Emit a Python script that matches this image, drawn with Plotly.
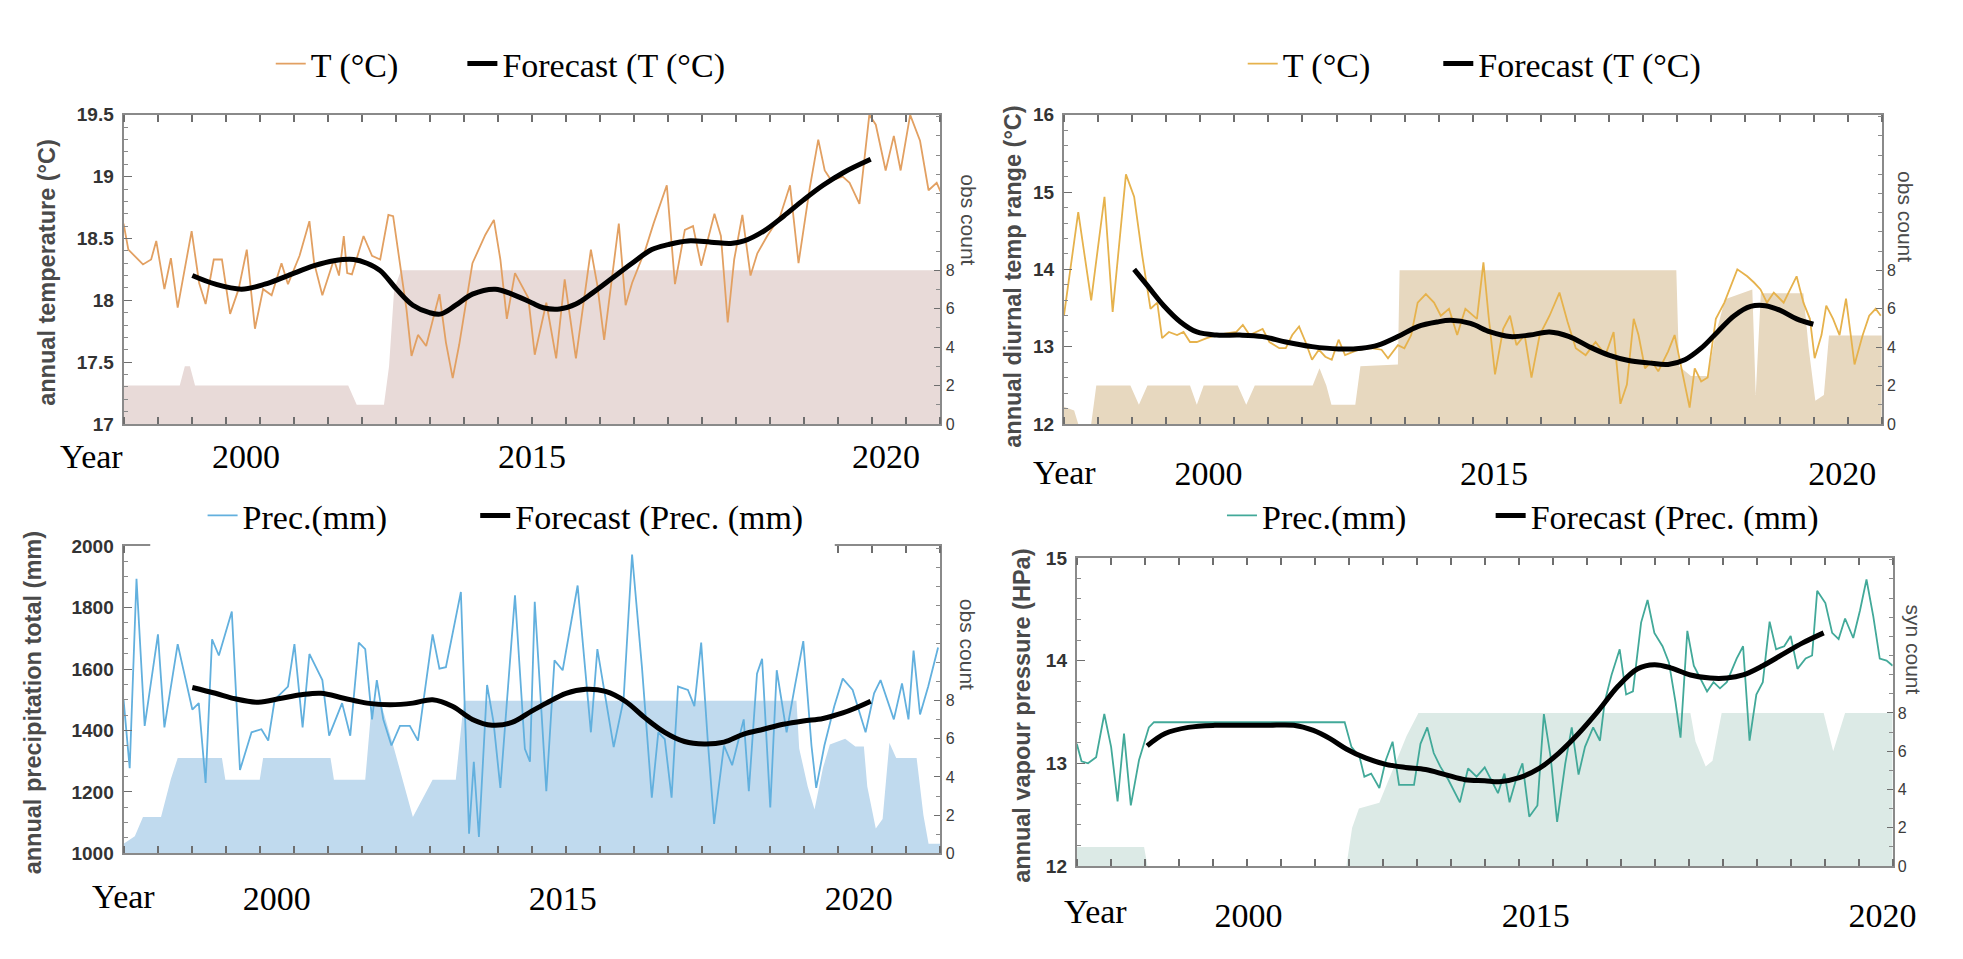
import plotly.graph_objects as go

W, H = 1963, 959

SERIF = "Liberation Serif"
SANS = "Liberation Sans"

YEAR_TEXT = ["2000", "2015", "2020"]
X_MINOR = list(range(0, 25))
COUNT_TICKS = [0, 2, 4, 6, 8]
COUNT_MINOR = list(range(0, 17))

# ---- panel A: annual temperature ----
A_T_X = [0, 0.14, 0.57, 0.81, 0.96, 1.2, 1.39, 1.59, 2.0, 2.22, 2.41, 2.65, 2.89, 3.13, 3.38,
         3.62, 3.86, 4.1, 4.35, 4.64, 4.83, 5.17, 5.46, 5.6, 5.84, 6.18, 6.33, 6.47, 6.57, 6.71,
         7.05, 7.3, 7.54, 7.78, 7.92, 8.12, 8.31, 8.46, 8.65, 8.89, 9.09, 9.28, 9.47, 9.67, 9.86,
         10.25, 10.63, 10.88, 11.07, 11.26, 11.5, 11.89, 12.08, 12.42, 12.71, 12.96, 13.29, 13.73,
         13.92, 14.12, 14.55, 14.75, 14.94, 15.33, 15.57, 15.96, 16.2, 16.49, 16.73, 16.97, 17.36,
         17.55, 17.75, 17.94, 18.18, 18.42, 18.62, 18.91, 19.29, 19.58, 19.83, 20.16, 20.41, 20.6,
         20.79, 21.13, 21.33, 21.62, 21.91, 22.1, 22.39, 22.63, 22.83, 23.11, 23.4, 23.65, 23.89, 24.0]
A_T_Y = [18.62, 18.41, 18.29, 18.33, 18.48, 18.09, 18.34, 17.94, 18.56, 18.14, 17.97, 18.33, 18.33,
         17.89, 18.09, 18.41, 17.77, 18.09, 18.04, 18.30, 18.13, 18.36, 18.64, 18.30, 18.04, 18.33,
         18.20, 18.52, 18.22, 18.21, 18.52, 18.36, 18.33, 18.69, 18.68, 18.30, 17.93, 17.55, 17.72,
         17.63, 17.85, 18.05, 17.66, 17.37, 17.64, 18.30, 18.53, 18.65, 18.33, 17.85, 18.22, 18.02,
         17.56, 17.98, 17.53, 18.17, 17.53, 18.41, 18.12, 17.68, 18.62, 17.96, 18.14, 18.41, 18.62,
         18.93, 18.13, 18.57, 18.60, 18.28, 18.70, 18.52, 17.82, 18.33, 18.69, 18.20, 18.38, 18.52,
         18.68, 18.93, 18.30, 18.91, 19.30, 19.05, 18.97, 19.0, 18.95, 18.78, 19.5, 19.42, 19.05,
         19.33, 19.05, 19.5, 19.29, 18.89, 18.95, 18.88]
A_FC_X = [2.02, 2.7, 3.47, 4.15, 4.83, 5.6, 6.18, 6.76, 7.15, 7.54, 8.02, 8.5, 8.99, 9.33, 9.76,
          10.25, 10.92, 11.41, 11.99, 12.33, 12.81, 13.29, 13.78, 14.36, 14.94, 15.52, 16.0, 16.58,
          17.26, 17.84, 18.23, 18.81, 19.39, 19.97, 20.55, 21.13, 21.95]
A_FC_Y = [18.20, 18.13, 18.09, 18.13, 18.20, 18.28, 18.32, 18.33, 18.30, 18.24, 18.09, 17.96, 17.90,
          17.89, 17.96, 18.05, 18.09, 18.05, 17.98, 17.94, 17.93, 17.97, 18.06, 18.18, 18.30, 18.41,
          18.45, 18.48, 18.47, 18.46, 18.48, 18.56, 18.68, 18.81, 18.93, 19.03, 19.14]
A_OBS_X = [0, 1.65, 1.8, 1.95, 2.1, 6.6, 6.85, 7.65, 7.8, 7.95, 8.15, 24]
A_OBS_Y = [2, 2, 3, 3, 2, 2, 1, 1, 3, 7, 8, 8]
A_Y_TICKS = [17, 17.5, 18, 18.5, 19, 19.5]
A_Y_TEXT = ["17", "17.5", "18", "18.5", "19", "19.5"]
A_YEAR_POS = [3.6, 12.0, 22.4]

# ---- panel B: annual diurnal temperature range ----
B_T_X = [0, 0.42, 0.8, 1.19, 1.43, 1.82, 2.06, 2.3, 2.54, 2.74, 2.88, 3.08, 3.32, 3.51, 3.7, 3.9,
         4.19, 4.48, 4.77, 5.06, 5.25, 5.45, 5.64, 5.83, 6.03, 6.32, 6.51, 6.7, 6.9, 7.09, 7.28,
         7.48, 7.67, 7.86, 8.06, 8.25, 8.64, 9.02, 9.32, 9.51, 9.8, 9.99, 10.19, 10.38, 10.62,
         10.86, 11.06, 11.3, 11.54, 11.78, 12.12, 12.31, 12.46, 12.65, 12.89, 13.09, 13.28, 13.52,
         13.72, 13.96, 14.25, 14.54, 14.78, 15.02, 15.31, 15.6, 15.89, 16.13, 16.33, 16.52, 16.72,
         16.86, 17.05, 17.25, 17.44, 17.73, 17.92, 18.12, 18.36, 18.51, 18.7, 18.89, 19.13, 19.38,
         19.57, 19.76, 20.05, 20.25, 20.44, 20.63, 20.83, 21.12, 21.31, 21.5, 21.7, 21.89, 22.03,
         22.23, 22.37, 22.57, 22.76, 22.95, 23.2, 23.44, 23.63, 23.82, 23.97]
B_T_Y = [13.40, 14.74, 13.60, 14.94, 13.45, 15.23, 14.94, 14.17, 13.49, 13.57, 13.11, 13.19, 13.15,
         13.19, 13.06, 13.06, 13.11, 13.15, 13.17, 13.19, 13.28, 13.15, 13.19, 13.23, 13.06, 12.98,
         12.98, 13.15, 13.26, 13.06, 12.83, 12.96, 12.87, 12.83, 13.09, 12.89, 12.96, 12.98, 12.96,
         12.85, 13.02, 12.98, 13.15, 13.57, 13.68, 13.57, 13.40, 13.49, 13.15, 13.49, 13.36, 14.09,
         13.40, 12.64, 13.23, 13.40, 13.02, 13.15, 12.60, 13.15, 13.40, 13.70, 13.32, 12.98, 12.89,
         13.06, 12.89, 13.19, 12.26, 12.51, 13.36, 13.15, 12.72, 12.81, 12.68, 12.94, 13.15, 12.72,
         12.21, 12.72, 12.55, 12.60, 13.36, 13.57, 13.79, 14.0, 13.91, 13.83, 13.74, 13.57, 13.70,
         13.57, 13.74, 13.91, 13.57, 13.36, 12.85, 13.15, 13.53, 13.36, 13.15, 13.62, 12.77, 13.15,
         13.40, 13.49, 13.40]
B_FC_X = [2.06, 2.45, 2.93, 3.42, 3.9, 4.48, 5.16, 5.83, 6.51, 7.28, 8.06, 8.73, 9.22, 9.8, 10.38,
          10.96, 11.35, 11.93, 12.51, 13.09, 13.67, 14.25, 14.83, 15.41, 15.99, 16.57, 17.15, 17.73,
          18.22, 18.7, 19.18, 19.67, 20.15, 20.58, 21.02, 21.5, 21.99]
B_FC_Y = [14.0, 13.79, 13.53, 13.32, 13.19, 13.15, 13.15, 13.13, 13.06, 13.0, 12.97, 12.98, 13.02,
          13.13, 13.26, 13.32, 13.34, 13.30, 13.19, 13.13, 13.15, 13.19, 13.13, 13.0, 12.89, 12.82,
          12.79, 12.77, 12.83, 12.98, 13.19, 13.40, 13.52, 13.53, 13.47, 13.36, 13.29]
B_OBS_X = [0, 0.3, 0.42, 0.8, 0.95, 1.95, 2.2, 2.45, 3.7, 3.9, 4.1, 5.1, 5.35, 5.6, 7.3, 7.5, 7.7,
           7.85, 8.55, 8.7, 9.8, 9.85, 17.97, 18.05, 18.4, 18.9, 19.1, 19.4, 20.2, 20.3, 20.45,
           21.7, 21.85, 22.05, 22.3, 22.45, 24]
B_OBS_Y = [0.9, 0.7, 0, 0, 2, 2, 1, 2, 2, 1, 2, 2, 1, 2, 2, 2.9, 2, 1, 1, 3, 3.1, 8, 8, 3, 2.5,
           2.5, 4.5, 6.5, 7, 1.5, 6.8, 6.8, 4, 1.2, 1.5, 4.6, 4.6]
B_Y_TICKS = [12, 13, 14, 15, 16]
B_Y_TEXT = ["12", "13", "14", "15", "16"]
B_YEAR_POS = [4.24, 12.62, 22.84]

# ---- panel C: annual precipitation total ----
C_P_X = [0, 0.18, 0.38, 0.62, 1.01, 1.2, 1.59, 2.02, 2.21, 2.41, 2.6, 2.8, 3.18, 3.42, 3.76, 4.05,
         4.25, 4.44, 4.83, 5.02, 5.26, 5.46, 5.84, 6.04, 6.42, 6.66, 6.91, 7.1, 7.3, 7.44, 7.63,
         7.87, 8.12, 8.41, 8.65, 9.08, 9.28, 9.47, 9.91, 10.05, 10.15, 10.29, 10.44, 10.68, 10.87,
         11.07, 11.5, 11.79, 11.94, 12.08, 12.42, 12.66, 12.9, 13.34, 13.73, 13.92, 14.16, 14.4,
         14.69, 14.94, 15.23, 15.52, 15.71, 15.9, 16.1, 16.29, 16.58, 16.77, 16.97, 17.16, 17.35,
         17.64, 17.88, 18.22, 18.37, 18.61, 18.76, 19.0, 19.19, 19.48, 19.72, 19.97, 20.21, 20.35,
         20.59, 20.88, 21.13, 21.42, 21.8, 22.05, 22.24, 22.48, 22.63, 22.87, 23.06, 23.21, 23.4,
         23.64, 23.93]
C_P_Y = [1500, 1277, 1894, 1415, 1713, 1410, 1681, 1468, 1489, 1229, 1697, 1644, 1787, 1271, 1394,
         1404, 1367, 1500, 1543, 1681, 1410, 1649, 1564, 1383, 1489, 1383, 1686, 1665, 1436, 1564,
         1436, 1351, 1415, 1415, 1367, 1713, 1601, 1606, 1851, 1394, 1064, 1298, 1053, 1548, 1426,
         1213, 1840, 1340, 1298, 1819, 1202, 1628, 1596, 1872, 1394, 1665, 1500, 1346, 1500, 1973,
         1606, 1181, 1394, 1372, 1181, 1543, 1532, 1479, 1686, 1372, 1096, 1351, 1287, 1436, 1202,
         1585, 1633, 1149, 1596, 1394, 1543, 1691, 1351, 1213, 1351, 1479, 1569, 1532, 1394, 1521,
         1564, 1489, 1436, 1553, 1436, 1660, 1452, 1543, 1670]
C_FC_X = [2.02, 2.7, 3.28, 3.96, 4.64, 5.22, 5.8, 6.47, 7.15, 7.83, 8.5, 9.08, 9.66, 10.25, 10.83,
          11.41, 11.99, 12.42, 13.0, 13.58, 14.16, 14.74, 15.32, 15.9, 16.48, 17.06, 17.64, 18.22,
          18.8, 19.38, 19.97, 20.55, 21.13, 21.51, 21.95]
C_FC_Y = [1540, 1521, 1503, 1492, 1505, 1516, 1521, 1505, 1489, 1484, 1489, 1500, 1479, 1436, 1417,
          1426, 1463, 1489, 1521, 1534, 1527, 1495, 1441, 1394, 1364, 1356, 1362, 1388, 1404, 1420,
          1431, 1439, 1457, 1473, 1495]
C_OBS_X = [0, 0.33, 0.57, 1.1, 1.39, 1.59, 2.89, 2.99, 4.0, 4.1, 6.08, 6.18, 7.1, 7.3, 7.54, 7.93,
           8.5, 8.8, 9.08, 9.76, 10.0, 19.77, 19.85, 20.1, 20.3, 20.55, 20.75, 21.2, 21.5, 21.75,
           21.85, 22.1, 22.3, 22.5, 22.7, 23.3, 23.5, 23.65, 24]
C_OBS_Y = [0.5, 0.9, 1.9, 1.9, 3.9, 5.0, 5.0, 3.85, 3.85, 5.0, 5.0, 3.85, 3.85, 8.0, 8.0, 5.6, 1.9,
           2.9, 3.85, 3.85, 8.0, 8.0, 5.5, 3.5, 2.3, 4.5, 5.7, 6.0, 5.6, 5.6, 3.5, 1.3, 1.8, 5.8,
           5.0, 5.0, 2.0, 0.5, 0.5]
C_Y_TICKS = [1000, 1200, 1400, 1600, 1800, 2000]
C_Y_TEXT = ["1000", "1200", "1400", "1600", "1800", "2000"]
C_YEAR_POS = [4.5, 12.9, 21.6]

# ---- panel D: annual vapour pressure ----
D_V_X = [0, 0.14, 0.33, 0.57, 0.81, 1.01, 1.2, 1.39, 1.59, 1.83, 2.12, 2.27, 7.88, 8.08, 8.32,
         8.46, 8.66, 8.9, 9.09, 9.29, 9.48, 9.92, 10.11, 10.31, 10.5, 10.69, 10.93, 11.13, 11.27,
         11.51, 11.76, 12.0, 12.39, 12.58, 12.73, 12.92, 13.11, 13.31, 13.55, 13.74, 13.94, 14.13,
         14.37, 14.56, 14.76, 14.95, 15.19, 15.39, 15.53, 15.73, 15.97, 16.16, 16.36, 16.6, 16.79,
         16.99, 17.23, 17.42, 17.61, 17.76, 17.96, 18.15, 18.54, 18.73, 18.92, 19.12, 19.41, 19.6,
         19.79, 19.99, 20.18, 20.38, 20.57, 20.81, 21.0, 21.2, 21.44, 21.63, 21.78, 22.02, 22.22,
         22.41, 22.6, 22.84, 23.04, 23.23, 23.43, 23.62, 23.82, 24.0]
D_V_Y = [13.19, 13.02, 13.0, 13.06, 13.48, 13.16, 12.63, 13.29, 12.59, 13.03, 13.35, 13.40, 13.40,
         13.16, 13.06, 12.87, 12.90, 12.76, 13.03, 13.21, 12.79, 12.79, 13.19, 13.35, 13.10, 12.97,
         12.84, 12.71, 12.62, 12.95, 12.87, 12.96, 12.71, 12.90, 12.62, 12.84, 13.0, 12.48, 12.59,
         13.48, 13.06, 12.43, 13.0, 13.35, 12.89, 13.16, 13.35, 13.22, 13.60, 13.86, 14.11, 13.67,
         13.70, 14.37, 14.59, 14.27, 14.14, 13.98, 13.60, 13.25, 14.29, 13.95, 13.70, 13.79, 13.73,
         13.79, 14.02, 14.14, 13.22, 13.67, 13.79, 14.38, 14.11, 14.14, 14.24, 13.92, 14.02, 14.05,
         14.68, 14.56, 14.27, 14.21, 14.41, 14.22, 14.49, 14.79, 14.43, 14.02, 14.0, 13.95]
D_FC_X = [2.07, 2.6, 3.28, 4.06, 4.83, 5.61, 6.38, 6.96, 7.45, 7.93, 8.51, 9.09, 9.67, 10.26, 10.84,
          11.42, 12.0, 12.43, 13.02, 13.6, 14.18, 14.76, 15.34, 15.92, 16.5, 16.99, 17.47, 18.05,
          18.63, 19.12, 19.6, 20.18, 20.76, 21.34, 21.97]
D_FC_Y = [13.17, 13.29, 13.35, 13.37, 13.37, 13.37, 13.37, 13.32, 13.24, 13.14, 13.05, 12.99, 12.96,
          12.94, 12.89, 12.84, 12.83, 12.82, 12.86, 12.95, 13.10, 13.29, 13.51, 13.75, 13.92, 13.96,
          13.93, 13.86, 13.83, 13.83, 13.86, 13.95, 14.06, 14.17, 14.27]
D_OBS_X = [0, 1.98, 2.08, 7.93, 8.1, 8.3, 8.9, 9.3, 9.7, 10.05, 18.05, 18.2, 18.5, 18.7, 18.97,
           21.97, 22.25, 22.6, 24]
D_OBS_Y = [1.0, 1.0, 0, 0, 2.0, 3.0, 3.3, 5.0, 6.8, 8, 8, 6.5, 5.2, 5.5, 8, 8, 6.0, 8, 8]
D_Y_TICKS = [12, 13, 14, 15]
D_Y_TEXT = ["12", "13", "14", "15"]
D_YEAR_POS = [5.05, 13.5, 23.7]


def px(x):
    return x / W


def py(y):
    return 1 - y / H


def legend_key(i):
    return "legend" if i == 1 else f"legend{i}"


def add_panel(fig, n, box, obs, line, forecast, yaxis_cfg, year_pos, standoff, colors, names):
    """one framed panel: count fill on the right axis, data + forecast on the left axis"""
    x0, y0, x1, y1 = box
    xa = "x" if n == 1 else f"x{n}"
    yb = "y" if n == 1 else f"y{2 * n - 1}"
    yl = f"y{2 * n}"
    frame = "#8a8a8a"

    fig.add_trace(go.Scatter(x=obs[0], y=obs[1], mode="lines", line=dict(width=0),
                             fill="tozeroy", fillcolor=colors[1], xaxis=xa, yaxis=yb,
                             showlegend=False, hoverinfo="skip"))
    fig.add_trace(go.Scatter(x=line[0], y=line[1], mode="lines", name=names[0],
                             line=dict(color=colors[0], width=1.8), xaxis=xa, yaxis=yl,
                             legend=legend_key(2 * n - 1)))
    fig.add_trace(go.Scatter(x=forecast[0], y=forecast[1], mode="lines", name=names[1],
                             line=dict(color="black", width=5, shape="spline"),
                             xaxis=xa, yaxis=yl, legend=legend_key(2 * n)))

    xkey = "xaxis" if n == 1 else f"xaxis{n}"
    ybkey = "yaxis" if n == 1 else f"yaxis{2 * n - 1}"
    ylkey = f"yaxis{2 * n}"
    fig.layout[xkey] = dict(
        domain=[px(x0), px(x1)], anchor=yb, range=[0, 24],
        tickmode="array", tickvals=year_pos, ticktext=YEAR_TEXT, ticks="",
        tickfont=dict(family=SERIF, size=34, color="black"), ticklabelstandoff=standoff,
        showline=True, linecolor=frame, linewidth=2, mirror="ticks",
        minor=dict(tickmode="array", tickvals=X_MINOR, ticks="inside", ticklen=7,
                   tickcolor="#6e6e6e", tickwidth=1.5),
        showgrid=False, zeroline=False)
    fig.layout[ybkey] = dict(
        domain=[py(y1), py(y0)], anchor=xa, side="right", range=[0, 16.1],
        tickmode="array", tickvals=COUNT_TICKS, ticks="inside", ticklen=6,
        tickcolor="#6e6e6e", tickfont=dict(family=SANS, size=16, color="#3c3c3c"),
        minor=dict(tickmode="array", tickvals=COUNT_MINOR, ticks="inside", ticklen=4,
                   tickcolor="#8a8a8a"),
        showline=True, linecolor=frame, linewidth=2, showgrid=False, zeroline=False)
    fig.layout[ylkey] = dict(
        overlaying=yb, anchor=xa, side="left", range=yaxis_cfg["range"],
        tickmode="array", tickvals=yaxis_cfg["ticks"], ticktext=yaxis_cfg["text"],
        ticks="inside", ticklen=8, tickcolor="#6e6e6e", ticklabelstandoff=4,
        tickfont=dict(family=SANS, size=19, color="#333333", weight="bold"),
        minor=dict(dtick=yaxis_cfg["minor"], ticks="inside", ticklen=4, tickcolor="#8a8a8a"),
        showline=True, linecolor=frame, linewidth=2, showgrid=False, zeroline=False)


fig = go.Figure()

add_panel(fig, 1, (117, 99, 944, 415), (A_OBS_X, A_OBS_Y), (A_T_X, A_T_Y), (A_FC_X, A_FC_Y),
          dict(range=[17, 19.5], ticks=A_Y_TICKS, text=A_Y_TEXT, minor=0.1), A_YEAR_POS, 1,
          ("#e2a062", "#e8dad8"), ("T (°C)", "Forecast (T (°C)"))
add_panel(fig, 2, (1069, 99, 1897, 415), (B_OBS_X, B_OBS_Y), (B_T_X, B_T_Y), (B_FC_X, B_FC_Y),
          dict(range=[12, 16], ticks=B_Y_TICKS, text=B_Y_TEXT, minor=0.2), B_YEAR_POS, 18,
          ("#e6b24c", "#e7d8bf"), ("T (°C)", "Forecast (T (°C)"))
add_panel(fig, 3, (117, 540, 944, 854), (C_OBS_X, C_OBS_Y), (C_P_X, C_P_Y), (C_FC_X, C_FC_Y),
          dict(range=[1000, 2000], ticks=C_Y_TICKS, text=C_Y_TEXT, minor=50), C_YEAR_POS, 14,
          ("#62b0de", "#c0daee"), ("Prec.(mm)", "Forecast (Prec. (mm)"))
add_panel(fig, 4, (1082, 552, 1908, 867), (D_OBS_X, D_OBS_Y), (D_V_X, D_V_Y), (D_FC_X, D_FC_Y),
          dict(range=[12, 15], ticks=D_Y_TICKS, text=D_Y_TEXT, minor=0.2), D_YEAR_POS, 18,
          ("#42a999", "#dceae6"), ("Prec.(mm)", "Forecast (Prec. (mm)"))

# one single-entry legend per item, left edge placed so the text starts where it does
legend_font = dict(family=SERIF, size=34, color="black")
legend_spots = [(309, 47), (503, 47), (1293, 47), (1491, 47),
                (240, 509), (516, 509), (1272, 509), (1544, 509)]
for i, (text_x, cy) in enumerate(legend_spots, start=1):
    fig.layout[legend_key(i)] = dict(x=px(text_x - 43), xanchor="left", y=py(cy),
                                     yanchor="middle", font=legend_font,
                                     bgcolor="rgba(0,0,0,0)", itemwidth=30)

annotations = []
for text, cx, cy in [("annual temperature (°C)", 40, 260),
                     ("annual diurnal temp range (°C)", 1018, 265),
                     ("annual precipitation total (mm)", 25, 700),
                     ("annual vapour pressure (HPa)", 1027, 713)]:
    annotations.append(dict(text=text, x=px(cx), y=py(cy), xref="paper", yref="paper",
                            xanchor="center", yanchor="middle", showarrow=False, textangle=-90,
                            font=dict(family=SANS, size=23.5, color="#4a4a4a", weight="bold")))
for text, cx, cy in [("obs count", 972, 206), ("obs count", 1921, 203),
                     ("obs count", 971, 640), ("syn count", 1929, 646)]:
    annotations.append(dict(text=text, x=px(cx), y=py(cy), xref="paper", yref="paper",
                            xanchor="center", yanchor="middle", showarrow=False, textangle=90,
                            font=dict(family=SANS, size=21, color="#4a4a4a")))
for cx, cy in [(85, 448), (1070, 465), (117, 898), (1101, 913)]:
    annotations.append(dict(text="Year", x=px(cx), y=py(cy), xref="paper", yref="paper",
                            xanchor="center", yanchor="middle", showarrow=False,
                            font=dict(family=SERIF, size=34, color="black")))

# the legend of the precipitation panel hides part of its top frame
shapes = [dict(type="rect", xref="paper", yref="paper", x0=px(144), x1=px(837),
               y0=py(547), y1=py(534), fillcolor="white", line=dict(width=0), layer="above")]

fig.update_layout(width=W, height=H, autosize=False, margin=dict(l=0, r=0, t=0, b=0),
                  paper_bgcolor="white", plot_bgcolor="white",
                  annotations=annotations, shapes=shapes, showlegend=True)

fig.write_html("out.html")
